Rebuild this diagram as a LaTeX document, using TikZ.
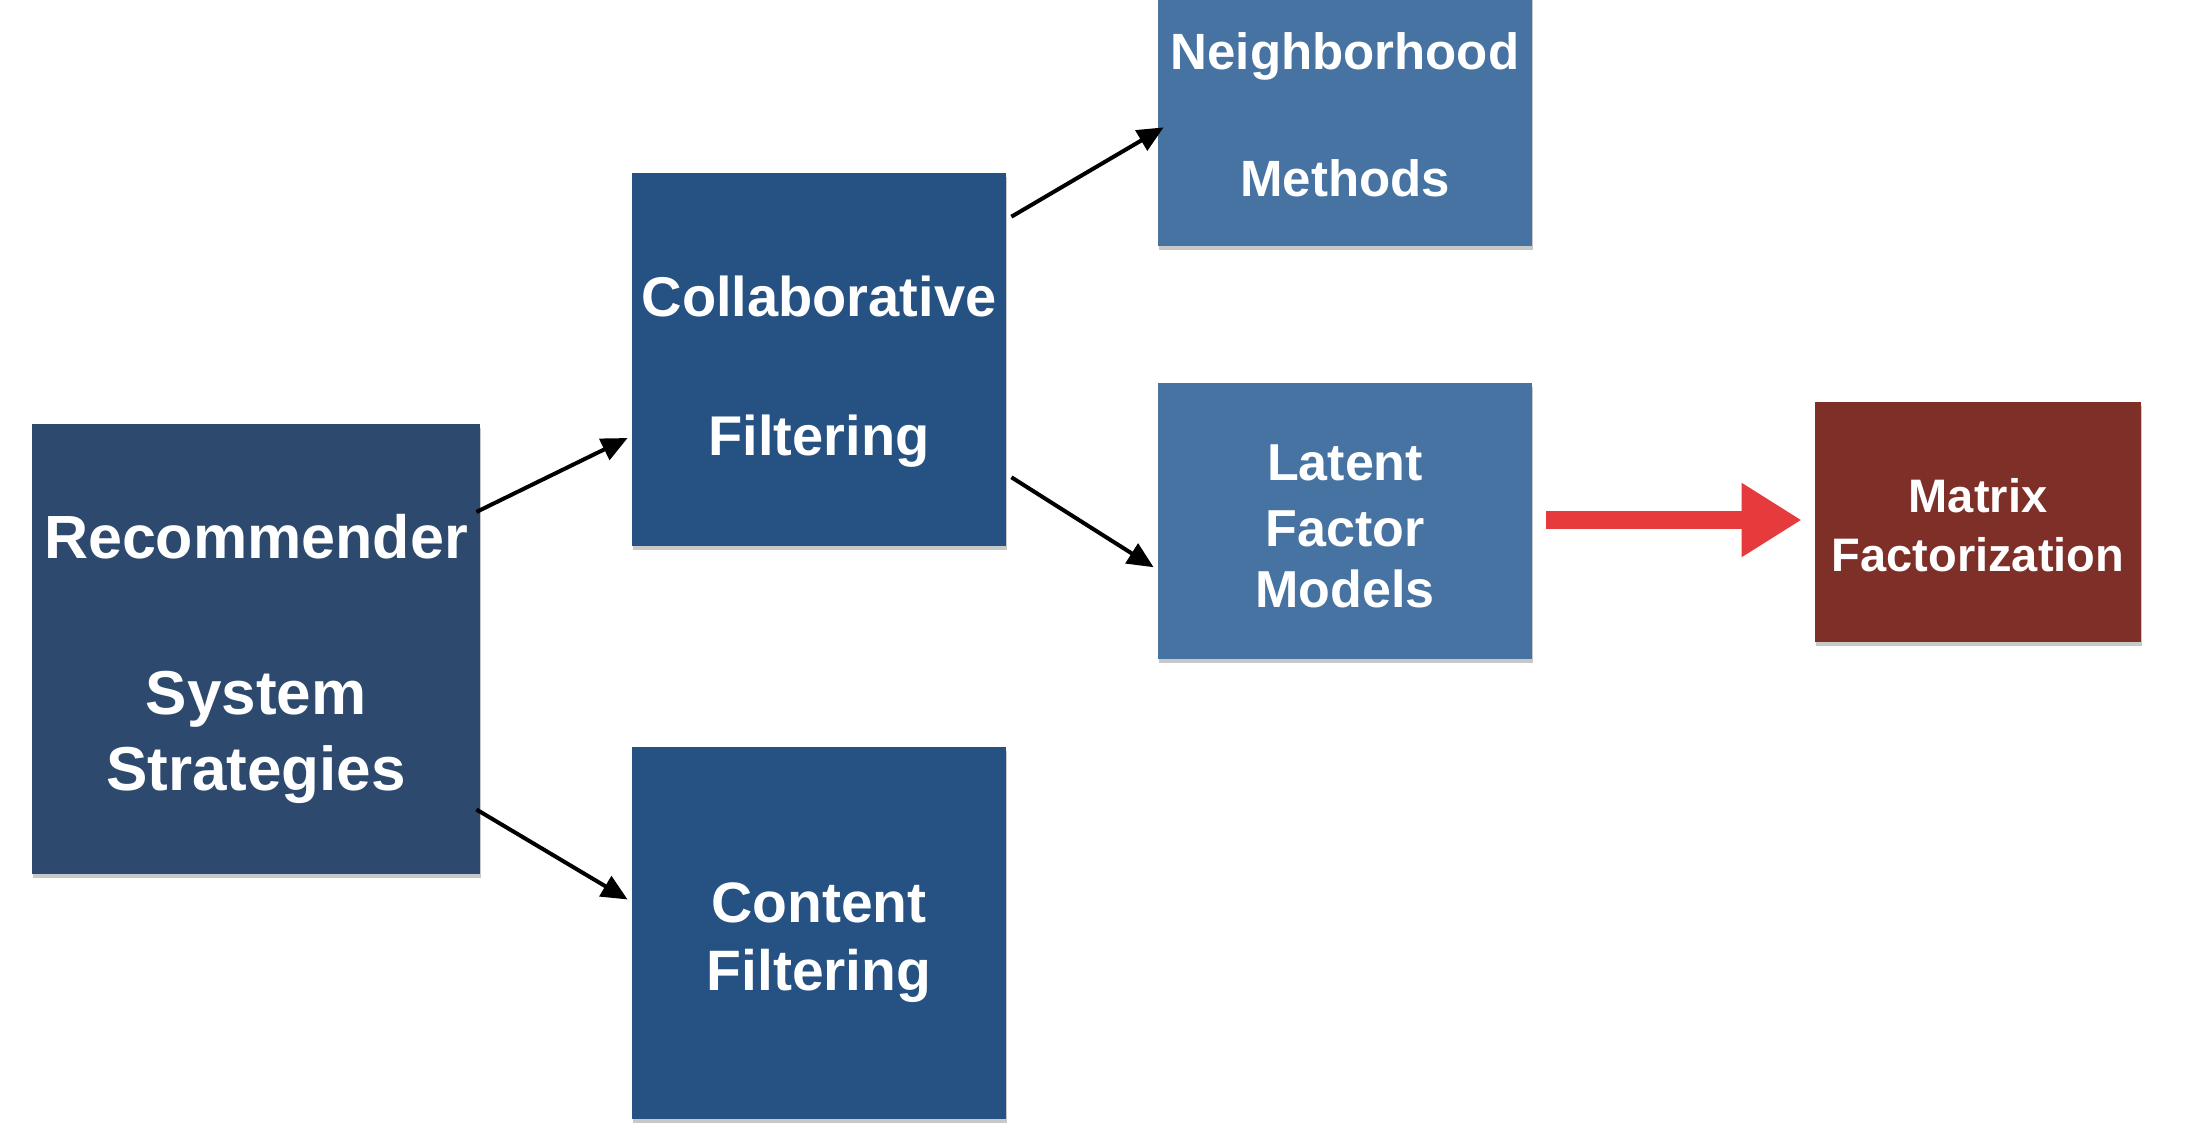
\documentclass[tikz,border=0pt]{standalone}
\usepackage{fontspec}
\setmainfont{Liberation Sans}
\usetikzlibrary{arrows.meta,calc,shadows}
\definecolor{recblue}{HTML}{2D4A6E}
\definecolor{midblue}{HTML}{255282}
\definecolor{ltblue}{HTML}{4673A1}
\definecolor{mfred}{HTML}{7E2F27}
\definecolor{arrred}{HTML}{E63B3D}
\newcommand\boxfont[1]{\fontsize{#1}{#1}\selectfont\bfseries}
\begin{document}
\begin{tikzpicture}[x=0.5pt,y=-0.5pt,
  box/.style={rectangle, inner sep=0pt, draw=none,
    drop shadow={shadow xshift=0.5pt, shadow yshift=-2pt, opacity=0.3, fill=black!70}},
  lbl/.style={text=white, anchor=base, inner sep=0pt},
  conn/.style={line width=2pt, -{Triangle[length=13pt,width=11.5pt]}},
  bigarrow/.style={arrred, line width=9pt, -{Triangle[length=30pt,width=35pt]}}]
\fill[white] (0,0) rectangle (2194,1136);
\useasboundingbox (0,0) rectangle (2194,1136);

% boxes
\node[box, fill=recblue, minimum width=224pt, minimum height=225pt] (rec) at (256,649) {};
\node[box, fill=midblue, minimum width=187pt, minimum height=186.5pt] (col) at (819,359.5) {};
\node[box, fill=midblue, minimum width=187pt, minimum height=186pt] (con) at (819,933) {};
\node[box, fill=ltblue, minimum width=187pt, minimum height=138pt] (nei) at (1345,108) {};
\node[box, fill=ltblue, minimum width=187pt, minimum height=138pt] (lat) at (1345,521) {};
\node[box, fill=mfred, minimum width=163pt, minimum height=120pt] (mat) at (1978,522) {};

% labels
\node[lbl, font=\boxfont{30.5}] (rect1) at (256,558) {Recommender};
\node[lbl, font=\boxfont{31}] (rect2) at (256,714) {System};
\node[lbl, font=\boxfont{31}] (rect3) at (256,790) {Strategies};
\node[lbl, font=\boxfont{28}] (colt1) at (819,316) {Collaborative};
\node[lbl, font=\boxfont{28}] (colt2) at (819,455) {Filtering};
\node[lbl, font=\boxfont{28.5}] (cont1) at (819,922) {Content};
\node[lbl, font=\boxfont{28.5}] (cont2) at (819,990) {Filtering};
\node[lbl, font=\boxfont{25.5}] (neit1) at (1345,69) {Neighborhood};
\node[lbl, font=\boxfont{25.5}] (neit2) at (1345,196) {Methods};
\node[lbl, font=\boxfont{26}] (latt1) at (1345,480) {Latent};
\node[lbl, font=\boxfont{26}] (latt2) at (1345,546) {Factor};
\node[lbl, font=\boxfont{26}] (latt3) at (1345,607) {Models};
\node[lbl, font=\boxfont{23.5}] (matt1) at (1978,512) {Matrix};
\node[lbl, font=\boxfont{23.5}] (matt2) at (1978,571) {Factorization};

% connectors
\draw[conn] ($(rec.north east)!0.196!(rec.south east)+(-4,0)$) -- ($(col.north west)!0.71!(col.south west)+(-4,0)$);
\draw[conn] ($(rec.north east)!0.856!(rec.south east)+(-4,0)$) -- ($(con.north west)!0.41!(con.south west)+(-4,0)$);
\draw[conn] ($(col.north east)!0.118!(col.south east)+(5,0)$) -- ($(nei.north west)!0.57!(nei.south west)+(6,0)$);
\draw[conn] ($(col.north east)!0.815!(col.south east)+(5,0)$) -- ($(lat.north west)!0.667!(lat.south west)+(-4,0)$);
\coordinate (rs) at ($(lat.east)+(14,-1)$);
\coordinate (re) at ($(mat.west)+(-13,-2)$);
\draw[bigarrow] (rs) -- (re);
\end{tikzpicture}
\end{document}
